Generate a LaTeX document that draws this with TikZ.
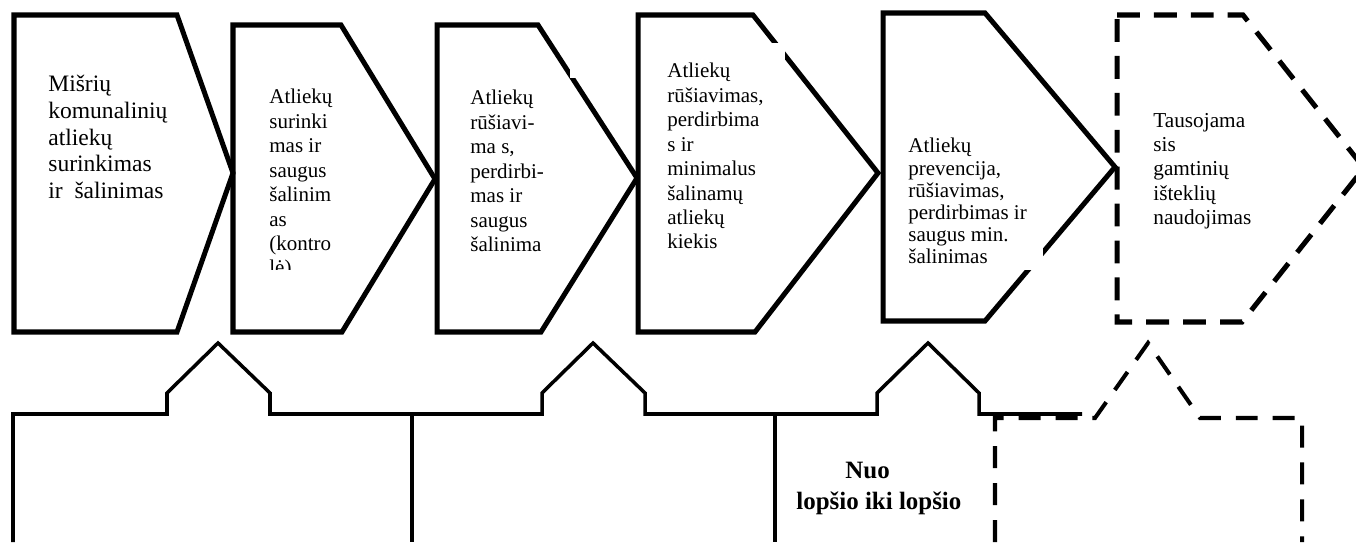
\documentclass[tikz,border=0pt]{standalone}
\usepackage{fontspec}
\setmainfont{Liberation Serif}

\begin{document}
\begin{tikzpicture}[x=0.2mm,y=-0.2mm]
\tikzset{
  stage/.style={draw=black,line width=2.85pt,line join=miter},
  goalstage/.style={stage,dash pattern=on 13pt off 8pt},
  stagetext/.style={anchor=north west,inner sep=0pt,align=left,font=\fontsize{11.95}{13.9}\selectfont},
  groundline/.style={draw=black,line width=2pt,line join=miter},
  groundfuture/.style={groundline,line width=2.3pt,dash pattern=on 12.5pt off 8.5pt}
}
\useasboundingbox (0,0) rectangle (1356,542);
% top row of stages
\draw[stage] (14,15) -- (177,15) -- (233,173) -- (177,332) -- (14,332) -- cycle;
\draw[stage] (233,25) -- (341,25) -- (435,179) -- (342,332) -- (233,332) -- cycle;
\draw[stage] (437,25) -- (538,25) -- (637,178) -- (541,332) -- (437,332) -- cycle;
\draw[stage] (638,15) -- (753,15) -- (878,173) -- (755,332) -- (638,332) -- cycle;
\draw[stage] (883,13) -- (985,13) -- (1115,167) -- (985,321) -- (883,321) -- cycle;
\draw[goalstage] (1117,15) -- (1243,15) -- (1364,168) -- (1242,322) -- (1117,322) -- cycle;
% breaks in the outlines
\fill[white] (570,64) rectangle (578,78);
\fill[white] (760,43) rectangle (785,70);
\fill[white] (1010,246) rectangle (1043,270);
\node[stagetext,font=\fontsize{13.4}{15.2}\selectfont] (n_mixed) at (48,75)
  {Mišrių\\komunalinių\\atliekų\\surinkimas\\ir\ \ šalinimas};
\begin{scope}
\clip (233,25) rectangle (435,269);
\node[stagetext] (n_collect) at (269,89)
  {Atliekų\\surinki\\mas ir\\saugus\\šalinim\\as\\(kontro\\lė)};
\end{scope}
\node[stagetext] (n_sort) at (470,90)
  {Atliekų\\rūšiavi-\\ma s,\\perdirbi-\\mas ir\\saugus\\šalinima};
\node[stagetext] (n_recycle) at (667,63)
  {Atliekų\\rūšiavimas,\\perdirbima\\s ir\\minimalus\\šalinamų\\atliekų\\kiekis};
\node[stagetext,font=\fontsize{11.95}{12.6}\selectfont] (n_prevent) at (908,138)
  {Atliekų\\prevencija,\\rūšiavimas,\\perdirbimas ir\\saugus min.\\šalinimas};
\node[stagetext,font=\fontsize{12.1}{13.8}\selectfont] (n_sustain) at (1153,113)
  {Tausojama\\sis\\gamtinių\\išteklių\\naudojimas};
% lower row
\draw[groundline] (13,542) -- (13,414) -- (167,414) -- (167,393) -- (218,343) -- (270,393) -- (270,414)
  -- (542,414) -- (542,393) -- (593,343) -- (645,393) -- (645,414)
  -- (877,414) -- (877,393) -- (928,343) -- (979,393) -- (979,414) -- (1082,414);
\draw[groundline] (412,414) -- (412,542);
\draw[groundline] (775,414) -- (775,542);
\draw[groundfuture] (995,542) -- (995,418) -- (1095,418) -- (1148,343) -- (1200,418) -- (1302,418) -- (1302,542);
\node[stagetext,font=\bfseries\fontsize{14.2}{17.6}\selectfont] (n_cradle) at (796,462)
  {\hspace*{27.9pt}Nuo\\lopšio iki lopšio};
\end{tikzpicture}
\end{document}
